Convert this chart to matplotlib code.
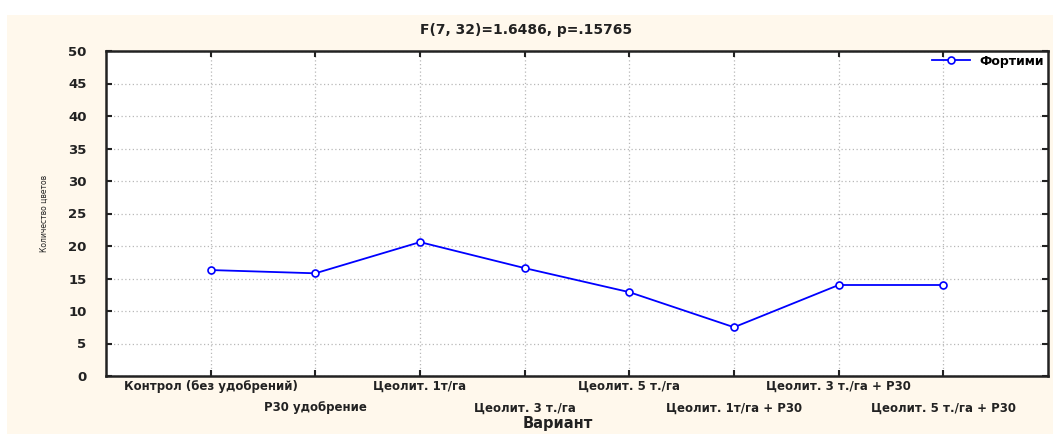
import numpy as np
import matplotlib.pyplot as plt
import matplotlib.patches as patches

# варианты опыта
variants = ['Контрол (без удобрений)', 'P30 удобрение', 'Цеолит. 1т/га',
            'Цеолит. 3 т./га', 'Цеолит. 5 т./га', 'Цеолит. 1т/га + P30',
            'Цеолит. 3 т./га + P30', 'Цеолит. 5 т./га + P30']
# количество цветов, Фортими
fortimi = [16.3, 15.8, 20.6, 16.6, 12.9, 7.5, 14.0, 14.0]
y_ticks = [0, 5, 10, 15, 20, 25, 30, 35, 40, 45, 50]

plt.rcParams['font.family'] = 'DejaVu Sans'

fig = plt.figure(figsize=(10.53, 4.34), dpi=100, facecolor='white')
# кремовый фон как в Statistica
fig.patches.append(patches.Rectangle((7 / 1053, 0), 1, 1 - 15 / 434,
                                     transform=fig.transFigure,
                                     facecolor='#fff8ec', edgecolor='none',
                                     zorder=-10))

ax = fig.add_axes([106 / 1053, 1 - 376 / 434, (1048 - 106) / 1053, (376 - 51) / 434])
ax.set_facecolor('white')

x = np.arange(1, len(variants) + 1)
ax.plot(x, fortimi, color='#0000ff', lw=1.3, marker='o', ms=5,
        mfc='white', mec='#0000ff', mew=1.2, label='Фортими', zorder=3)

ax.set_xlim(0, 9)
ax.set_ylim(0, 50)
ax.set_yticks(y_ticks)
ax.set_yticklabels([str(v) for v in y_ticks], fontsize=9.5, fontweight='bold',
                   color='#222222')
ax.set_xticks(x)
ax.set_xticklabels([])
for i, name in enumerate(variants):
    yy = -0.012 if i % 2 == 0 else -0.078
    ax.text(x[i], yy, name, transform=ax.get_xaxis_transform(), ha='center',
            va='top', fontsize=8.5, fontweight='bold', color='#222222')

ax.tick_params(direction='in', length=4, width=1.5, top=True, right=True,
               color='#222222', pad=14)
ax.tick_params(axis='x', pad=2)
for s in ax.spines.values():
    s.set_linewidth(1.8)
    s.set_color('#222222')

ax.grid(True, color='#b8b8b8', linestyle=(0, (1, 2)), lw=0.9)

fig.text(0.5, 1 - 30 / 434, 'F(7, 32)=1.6486, p=.15765', fontsize=10,
         fontweight='bold', color='#222222', ha='center', va='center')
ax.set_xlabel('Вариант', fontsize=10.5, fontweight='bold', color='#222222')
ax.xaxis.set_label_coords(0.48, -0.147)
ax.xaxis.label.set_va('center')
ax.set_ylabel('Количество цветов', fontsize=5.5, color='#222222', labelpad=14)

ax.legend(loc='upper right', frameon=False, handlelength=3,
          prop={'size': 9, 'weight': 'bold'},
          borderaxespad=0.1, borderpad=0.2)

fig.savefig('out.png', dpi=100, facecolor=fig.get_facecolor())
